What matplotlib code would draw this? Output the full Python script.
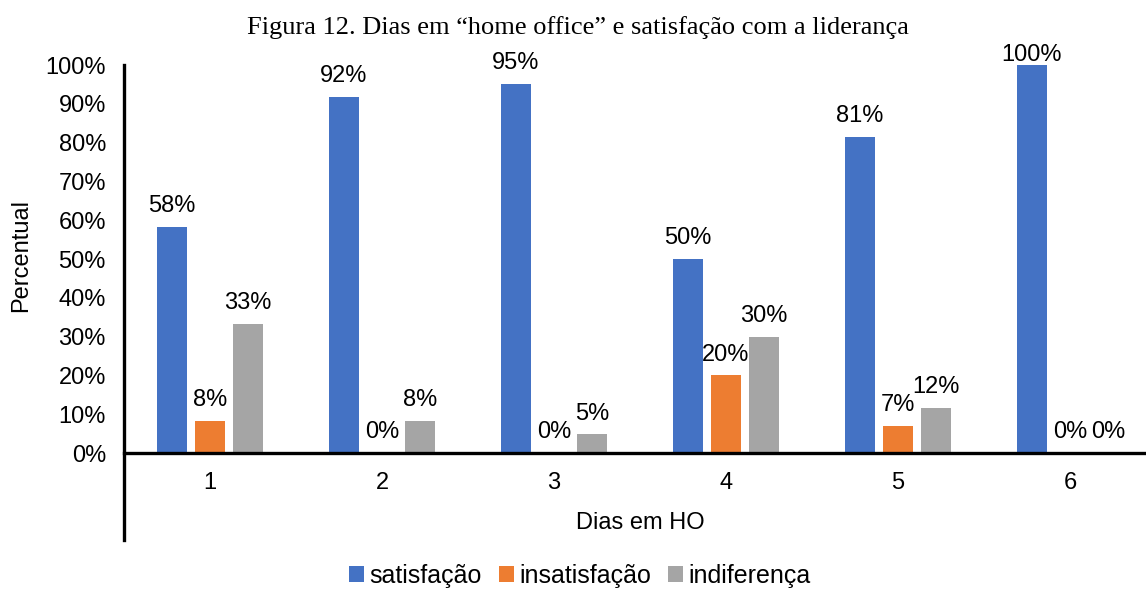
import matplotlib
matplotlib.use("Agg")
import matplotlib.pyplot as plt
import numpy as np

# dados
dias = ["1", "2", "3", "4", "5", "6"]
satisfacao = [58.3, 91.7, 95.2, 50.0, 81.4, 100.0]
insatisfacao = [8.3, 0.0, 0.0, 20.0, 7.0, 0.0]
indiferenca = [33.3, 8.3, 4.8, 30.0, 11.6, 0.0]
series = ["satisfação", "insatisfação", "indiferença"]
cores = ["#4472C4", "#ED7D31", "#A5A5A5"]

plt.rcParams['font.family'] = ['Liberation Sans', 'DejaVu Sans']
plt.rcParams['font.size'] = 17

fig = plt.figure(figsize=(11.46, 5.9), dpi=100)
# right edge of the axis runs past the picture, as in the reference
ax = fig.add_axes([124/1146, 1 - 540/590, 1032/1146, 475/590])

x = np.arange(1, len(dias) + 1)
largura = 0.174
passo = 0.221
for i, (vals, nome, cor) in enumerate(zip([satisfacao, insatisfacao, indiferenca], series, cores)):
    pos = x + (i - 1) * passo
    bars = ax.bar(pos, np.array(vals) / 100, width=largura, color=cor, label=nome, zorder=2)
    for b, v in zip(bars, vals):
        # label at the top of the plot area is pushed down, like excel does
        off = 7 if v < 99.5 else -1
        ax.annotate("%d%%" % round(v), (b.get_x() + b.get_width() / 2, b.get_height()),
                    xytext=(0, off), textcoords="offset points", ha="center", va="bottom",
                    fontsize=17, annotation_clip=False)

ax.set_xlim(0.5, 6.5)
ax.set_ylim(-0.224, 1.0)
ax.set_yticks(np.arange(0, 1.01, 0.1))
ax.set_yticklabels(["%d%%" % round(t * 100) for t in np.arange(0, 1.01, 0.1)])
ax.tick_params(axis="y", length=0, pad=13)
ax.set_xticks([])

for d, xi in zip(dias, x):
    ax.text(xi, -0.077, d, ha="center", va="center", fontsize=17)
ax.text(3.5, -0.18, "Dias em HO", ha="center", va="center", fontsize=17)

ax.axhline(0, color="black", lw=2.4, zorder=3, clip_on=False)
for s in ["top", "right", "bottom"]:
    ax.spines[s].set_visible(False)
ax.spines["left"].set_linewidth(2.4)

ax.set_ylabel("Percentual", fontsize=17)
ax.yaxis.set_label_coords(-0.089, 0.6)

fig.text(0.504, 0.953, "Figura 12. Dias em “home office” e satisfação com a liderança",
         ha="center", va="center", fontsize=19, family=["Liberation Serif", "DejaVu Serif"])

fig.legend(loc="center", bbox_to_anchor=(0.506, 0.024), ncol=3, frameon=False,
           handlelength=0.6, handleheight=0.6, handletextpad=0.2, columnspacing=0.7,
           fontsize=18)

fig.savefig("out.png", dpi=100)
